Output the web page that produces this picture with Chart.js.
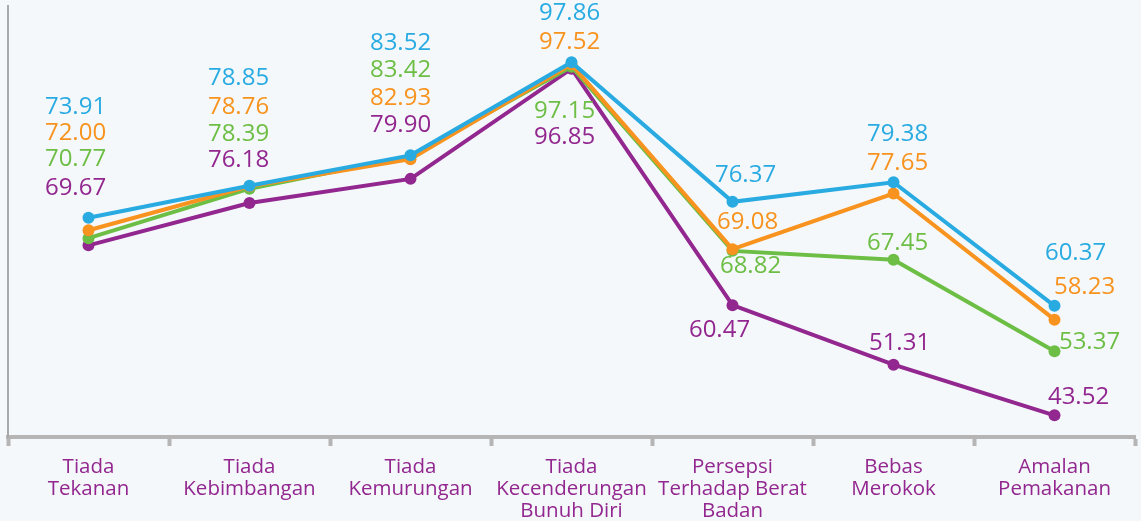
<!DOCTYPE html>
<html>
<head>
<meta charset="utf-8">
<script src="https://cdn.jsdelivr.net/npm/chart.js@4.4.1/dist/chart.umd.min.js"></script>
<style>
    html, body { margin: 0; padding: 0; background: #f5f8fb; }
    #wrap { width: 1141px; height: 521px; }
</style>
</head>
<body>
<div id="wrap"><canvas id="healthCanvas" width="1141" height="521"></canvas></div>
<script>
// Categories (two / three line labels)
const categories = [
    ['Tiada', 'Tekanan'],
    ['Tiada', 'Kebimbangan'],
    ['Tiada', 'Kemurungan'],
    ['Tiada', 'Kecenderungan', 'Bunuh Diri'],
    ['Persepsi', 'Terhadap Berat', 'Badan'],
    ['Bebas', 'Merokok'],
    ['Amalan', 'Pemakanan']
];

// Series values
const blueValues   = [73.91, 78.85, 83.52, 97.86, 76.37, 79.38, 60.37];
const orangeValues = [72.00, 78.76, 82.93, 97.52, 69.08, 77.65, 58.23];
const greenValues  = [70.77, 78.39, 83.42, 97.15, 68.82, 67.45, 53.37];
const purpleValues = [69.67, 76.18, 79.90, 96.85, 60.47, 51.31, 43.52];

const blue = '#29abe2';
const orange = '#f7931e';
const green = '#6dbe45';
const purple = '#92278f';

// where each value label sits, relative to its point (dx, dy) in px
const labelOffsets = [
    [[-13, -111], [-11, -108], [-10, -112], [-2, -49], [13, -27], [4, -48], [21, -53]],
    [[-13, -97], [-11, -79], [-10, -61], [-2, -22], [15, -27], [4, -30], [30, -33]],
    [[-13, -79], [-11, -55], [-10, -86], [-7, 44], [18, 15], [4, -17], [35, -9]],
    [[-13, -57], [-11, -43], [-10, -54], [-7, 68], [-13, 25], [6, -22], [24, -18]]
];

const valueLabels = {
    id: 'valueLabels',
    afterDatasetsDraw(chart) {
        const ctx = chart.ctx;
        ctx.save();
        ctx.font = '24px "Open Sans"';
        ctx.textAlign = 'center';
        ctx.textBaseline = 'middle';
        chart.data.datasets.forEach((ds, d) => {
            const meta = chart.getDatasetMeta(d);
            meta.data.forEach((pt, i) => {
                const off = labelOffsets[d][i];
                ctx.fillStyle = ds.borderColor;
                ctx.fillText(ds.data[i].toFixed(2), pt.x + off[0], pt.y + off[1]);
            });
        });
        ctx.restore();
    }
};

function makeSet(label, values, color) {
    return {
        label: label,
        data: values,
        borderColor: color,
        backgroundColor: color,
        borderWidth: 4,
        pointRadius: 6,
        pointHoverRadius: 6,
        pointBorderWidth: 0,
        tension: 0
    };
}

const healthContext = document.getElementById('healthCanvas').getContext('2d');

new Chart(healthContext, {
    type: 'line',
    data: {
        labels: categories,
        datasets: [
            makeSet('Biru', blueValues, blue),
            makeSet('Oren', orangeValues, orange),
            makeSet('Hijau', greenValues, green),
            makeSet('Ungu', purpleValues, purple)
        ]
    },
    options: {
        responsive: false,
        animation: false,
        layout: {
            padding: { left: 8, right: 3, top: 0, bottom: 0 }
        },
        scales: {
            x: {
                offset: true,
                grid: {
                    offset: true,
                    drawOnChartArea: false,
                    drawTicks: true,
                    tickLength: 9,
                    tickWidth: 4,
                    tickColor: '#b5b5b5'
                },
                border: { color: '#b5b5b5', width: 4 },
                ticks: {
                    color: purple,
                    autoSkip: false,
                    maxRotation: 0,
                    padding: 10,
                    font: { family: '"Open Sans"', size: 20.5, lineHeight: 1.08 }
                },
                afterFit: (scale) => { scale.height = 84; }
            },
            y: {
                min: 40.18,
                max: 106.5,
                grid: { display: false, drawTicks: false },
                border: { color: '#a9a9a9', width: 2 },
                ticks: { display: false }
            }
        },
        plugins: {
            legend: { display: false },
            tooltip: { enabled: false }
        }
    },
    plugins: [valueLabels]
});
</script>
</body>
</html>
